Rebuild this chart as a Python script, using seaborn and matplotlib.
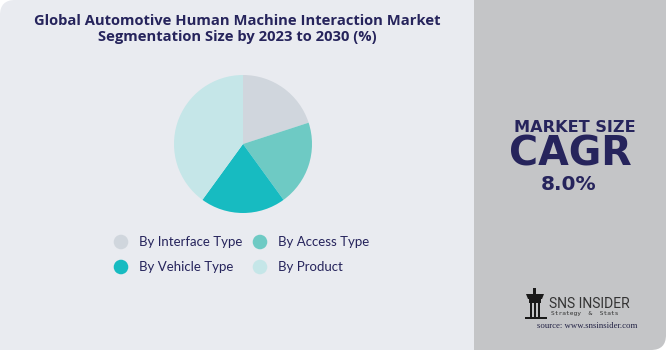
import matplotlib
matplotlib.use("Agg")
import matplotlib.pyplot as plt
from matplotlib.patches import FancyBboxPatch, Rectangle, Polygon
import seaborn as sns

# Segment data
segments = ["By Interface Type", "By Access Type", "By Vehicle Type", "By Product"]
shares = [20, 20, 20, 40]
colors = ["#d0d6dd", "#6ecac4", "#17bbc1", "#c5e6e8"]

title_text = "Global Automotive Human Machine Interaction Market\nSegmentation Size by 2023 to 2030 (%)"
cagr_value = "8.0%"

sns.set_theme(style="white")
plt.rcParams["font.family"] = ["Lato", "DejaVu Sans"]

W, H = 670, 350
fig = plt.figure(figsize=(W / 100, H / 100), dpi=100)
fig.patch.set_facecolor("white")

# Background canvas in pixel coordinates
bg = fig.add_axes([0, 0, 1, 1])
bg.set_xlim(0, W)
bg.set_ylim(H, 0)
bg.axis("off")

navy = "#26245c"
light = "#e9ebf0"
grey = "#c4c5c7"
rad = 15

# Left panel: only the top-left corner is rounded
bg.add_patch(FancyBboxPatch((0, 0), 474, 350, boxstyle=f"round,pad=0,rounding_size={rad}",
                            facecolor=light, edgecolor="none"))
bg.add_patch(Rectangle((0, rad), 474, 350 - rad, facecolor=light, edgecolor="none"))
bg.add_patch(Rectangle((rad, 0), 474 - rad, 350, facecolor=light, edgecolor="none"))

# Right panel: only the bottom-right corner is rounded
bg.add_patch(FancyBboxPatch((474, 0), 192, 350, boxstyle=f"round,pad=0,rounding_size={rad}",
                            facecolor=grey, edgecolor="none"))
bg.add_patch(Rectangle((474, 0), 192, 350 - rad, facecolor=grey, edgecolor="none"))
bg.add_patch(Rectangle((474, 0), 192 - rad, 350, facecolor=grey, edgecolor="none"))

# Title
bg.text(237, 29, title_text, ha="center", va="center", fontsize=10.6,
        fontweight="bold", color=navy, linespacing=1.25,
        family=["Open Sans", "DejaVu Sans"])

# Right panel text
big = ["DejaVu Sans"]
bg.text(575, 128, "MARKET SIZE", ha="center", va="center", fontsize=11.6,
        fontweight="bold", color=navy, family=big)
bg.text(570, 155, "CAGR", ha="center", va="center", fontsize=28.5,
        fontweight="bold", color=navy, family=big)
bg.text(569, 184, cagr_value, ha="center", va="center", fontsize=14.5,
        fontweight="bold", color=navy, family=big)

# Logo: stylised tower icon with wordmark
logo_c = "#1a1a1a"
bg.add_patch(Polygon([(526, 294), (544, 294), (542, 299), (528, 299)], closed=True,
                     facecolor=logo_c, edgecolor="none"))
bg.add_patch(Rectangle((529, 299), 12, 4, facecolor=logo_c, edgecolor="none"))
bg.add_patch(Rectangle((530, 303), 2, 14, facecolor=logo_c, edgecolor="none"))
bg.add_patch(Rectangle((534, 303), 2, 14, facecolor=logo_c, edgecolor="none"))
bg.add_patch(Rectangle((538, 303), 2, 14, facecolor=logo_c, edgecolor="none"))
bg.add_patch(Rectangle((525, 317), 22, 2, facecolor=logo_c, edgecolor="none"))
bg.add_patch(Rectangle((533, 288), 3, 6, facecolor=logo_c, edgecolor="none"))
bg.text(549, 304, "SNS INSIDER", ha="left", va="center", fontsize=10,
        color="#333333", family=["Roboto", "DejaVu Sans"])
bg.text(551, 314, "Strategy  &  Stats", ha="left", va="center", fontsize=4.5,
        color="#333333", family=["DejaVu Sans Mono"])
bg.text(587, 326, "source: www.snsinsider.com", ha="center", va="center", fontsize=6.3,
        color="#222244", family=["Liberation Serif", "DejaVu Serif"])

# Pie chart
cx, cy, r = 243, 144, 69
pie_ax = fig.add_axes([(cx - r) / W, (H - cy - r) / H, 2 * r / W, 2 * r / H])
pie_ax.pie(shares, colors=colors, startangle=90, counterclock=False,
           wedgeprops=dict(linewidth=0))
pie_ax.set_xlim(-1, 1)
pie_ax.set_ylim(-1, 1)
pie_ax.set_aspect("equal")
pie_ax.axis("off")

# Legend
legend_pos = [(121, 242), (260, 242), (121, 267), (260, 267)]
for (x, y), name, col in zip(legend_pos, segments, colors):
    bg.scatter([x], [y], s=110, color=col, edgecolor="none")
    bg.text(x + 18, y, name, ha="left", va="center", fontsize=9.5,
            color=navy)

fig.savefig("out.png", dpi=100, facecolor=fig.get_facecolor())
